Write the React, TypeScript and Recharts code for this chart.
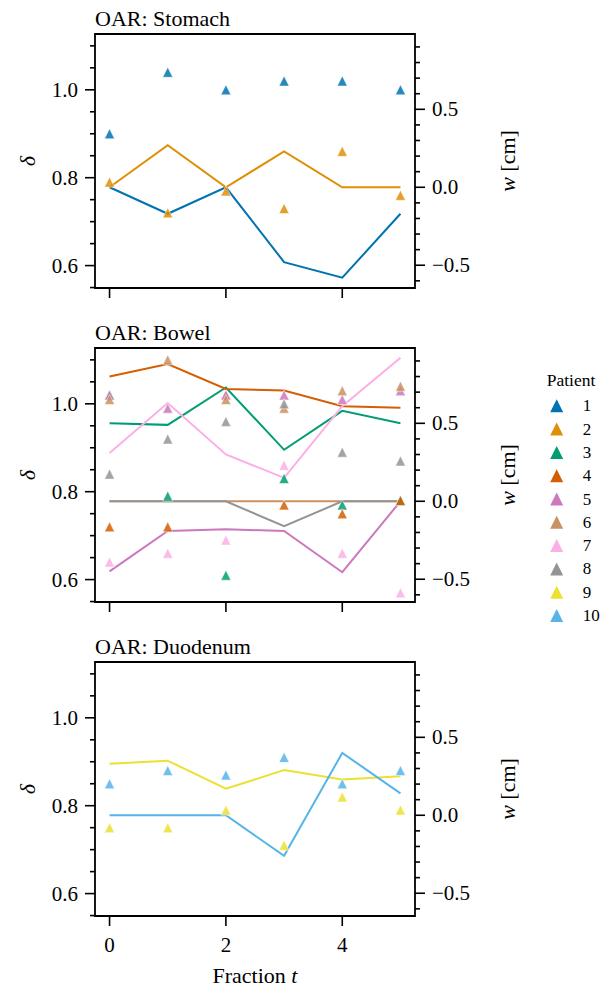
import React from 'react';
import { ComposedChart, Line, Scatter, XAxis, YAxis, ReferenceArea } from 'recharts';

// fractions on the x axis
const fractions = [0, 1, 2, 3, 4, 5];
const xTicks = [0, 2, 4];

// delta (left axis, triangles) and w (right axis, lines) per patient
const delta1 = [0.9, 1.04, 1.0, 1.02, 1.02, 1.0];
const shift1 = [0.0, -0.17, 0.0, -0.48, -0.58, -0.17];
const delta2 = [0.79, 0.72, 0.77, 0.73, 0.86, 0.76];
const shift2 = [0.0, 0.27, 0.0, 0.23, 0.0, 0.0];

const delta3 = [1.02, 0.79, 0.61, 0.83, 0.77, 0.78];
const shift3 = [0.5, 0.49, 0.73, 0.33, 0.58, 0.5];
const delta4 = [0.72, 0.72, 1.02, 0.77, 0.75, 0.78];
const shift4 = [0.8, 0.88, 0.72, 0.71, 0.61, 0.6];
const delta5 = [1.02, 0.99, 1.02, 1.02, 1.01, 1.03];
const shift5 = [-0.45, -0.19, -0.18, -0.19, -0.455, 0.0];
const delta6 = [1.01, 1.1, 1.01, 0.99, 1.03, 1.04];
const shift6 = [0.0, 0.0, 0.0, 0.0, 0.0, 0.0];
const delta7 = [0.64, 0.66, 0.69, 0.86, 0.66, 0.57];
const shift7 = [0.31, 0.63, 0.3, 0.15, 0.61, 0.92];
const delta8 = [0.84, 0.92, 0.96, 1.0, 0.89, 0.87];
const shift8 = [0.0, 0.0, 0.0, -0.16, 0.0, 0.0];

const delta9 = [0.75, 0.75, 0.79, 0.71, 0.82, 0.79];
const shift9 = [0.33, 0.35, 0.17, 0.29, 0.23, 0.25];
const delta10 = [0.85, 0.88, 0.87, 0.91, 0.85, 0.88];
const shift10 = [0.0, 0.0, 0.0, -0.26, 0.4, 0.14];

const patientDelta: Record<number, number[]> = {
    1: delta1, 2: delta2, 3: delta3, 4: delta4, 5: delta5,
    6: delta6, 7: delta7, 8: delta8, 9: delta9, 10: delta10,
};
const patientShift: Record<number, number[]> = {
    1: shift1, 2: shift2, 3: shift3, 4: shift4, 5: shift5,
    6: shift6, 7: shift7, 8: shift8, 9: shift9, 10: shift10,
};

const patients = [1, 2, 3, 4, 5, 6, 7, 8, 9, 10];
const colors = [
    '#0173b2', '#de8f05', '#029e73', '#d55e00', '#cc78bc',
    '#ca9161', '#fbafe4', '#949494', '#ece133', '#56b4e9',
];

const deltaTicks = [0.55, 0.6, 0.65, 0.7, 0.75, 0.8, 0.85, 0.9, 0.95, 1.0, 1.05, 1.1];
const deltaMajor = [0.6, 0.8, 1.0];
const shiftTicks = [-0.6, -0.5, -0.4, -0.3, -0.2, -0.1, 0, 0.1, 0.2, 0.3, 0.4, 0.5, 0.6, 0.7, 0.8, 0.9];
const shiftMajor = [-0.5, 0, 0.5];

const organs = [
    { title: 'OAR: Stomach', patients: [1, 2] },
    { title: 'OAR: Bowel', patients: [3, 4, 5, 6, 7, 8] },
    { title: 'OAR: Duodenum', patients: [9, 10] },
];

const X_DOMAIN: [number, number] = [-0.25, 5.25];
const DELTA_DOMAIN: [number, number] = [0.549, 1.127];
const SHIFT_DOMAIN: [number, number] = [-0.646, 0.983];

const W = 607;
const PLOT_L = 95;
const PLOT_R = 415;
const PLOT_TOP = 34;
const PLOT_BOTTOM = 288;
const FONT = '"Liberation Serif", "DejaVu Serif", serif';

const isMajor = (v: number, majors: number[]) => majors.some((m) => Math.abs(m - v) < 1e-6);
const fmt = (v: number) => (v < 0 ? '\u2212' + Math.abs(v).toFixed(1) : v.toFixed(1));

const Triangle = (props: any) => {
    const { cx, cy, fill } = props;
    if (cx == null || cy == null) return null;
    const s = 5;
    return (
        <path
            d={`M${cx},${cy - s}L${cx - s},${cy + s}L${cx + s},${cy + s}Z`}
            fill={fill}
            fillOpacity={0.85}
            stroke="#fff"
            strokeWidth={0.5}
        />
    );
};

function Panel({ title, ids, showX, height }: { title: string; ids: number[]; showX: boolean; height: number }) {
    const renderX = (props: any) => {
        const { x, payload } = props;
        return (
            <g>
                <line x1={x} x2={x} y1={PLOT_BOTTOM} y2={PLOT_BOTTOM + 10} stroke="#000" strokeWidth={1.6} />
                {showX && (
                    <text x={x} y={PLOT_BOTTOM + 36} textAnchor="middle" fontSize={21} fontFamily={FONT} fill="#000">
                        {payload.value}
                    </text>
                )}
            </g>
        );
    };
    const renderDelta = (props: any) => {
        const { y, payload } = props;
        const major = isMajor(payload.value, deltaMajor);
        return (
            <g>
                <line x1={PLOT_L} x2={PLOT_L - (major ? 10 : 5)} y1={y} y2={y} stroke="#000" strokeWidth={1.6} />
                {major && (
                    <text x={PLOT_L - 17} y={y} textAnchor="end" dominantBaseline="central" fontSize={21} fontFamily={FONT} fill="#000">
                        {payload.value.toFixed(1)}
                    </text>
                )}
            </g>
        );
    };
    const renderShift = (props: any) => {
        const { y, payload } = props;
        const major = isMajor(payload.value, shiftMajor);
        return (
            <g>
                <line x1={PLOT_R} x2={PLOT_R + (major ? 10 : 5)} y1={y} y2={y} stroke="#000" strokeWidth={1.6} />
                {major && (
                    <text x={PLOT_R + 17} y={y} textAnchor="start" dominantBaseline="central" fontSize={21} fontFamily={FONT} fill="#000">
                        {fmt(payload.value)}
                    </text>
                )}
            </g>
        );
    };
    const midY = (PLOT_TOP + PLOT_BOTTOM) / 2;

    return (
        <ComposedChart width={W} height={height} margin={{ top: PLOT_TOP, right: 0, bottom: 0, left: 0 }}>
            <XAxis
                type="number"
                dataKey="t"
                domain={X_DOMAIN}
                ticks={xTicks}
                interval={0}
                allowDataOverflow
                axisLine={false}
                tickLine={false}
                height={height - PLOT_BOTTOM}
                tick={renderX}
                label={
                    showX
                        ? {
                              content: () => (
                                  <text x={(PLOT_L + PLOT_R) / 2} y={355} textAnchor="middle" fontSize={22} fontFamily={FONT} fill="#000">
                                      Fraction <tspan fontStyle="italic">t</tspan>
                                  </text>
                              ),
                          }
                        : undefined
                }
            />
            <YAxis
                yAxisId="delta"
                orientation="left"
                type="number"
                width={PLOT_L}
                domain={DELTA_DOMAIN}
                ticks={deltaTicks}
                interval={0}
                allowDataOverflow
                axisLine={false}
                tickLine={false}
                tick={renderDelta}
                label={{
                    content: () => (
                        <text
                            x={27}
                            y={midY}
                            transform={`rotate(-90, 27, ${midY})`}
                            textAnchor="middle"
                            dominantBaseline="central"
                            fontSize={22}
                            fontFamily={FONT}
                            fontStyle="italic"
                            fill="#000"
                        >
                            δ
                        </text>
                    ),
                }}
            />
            <YAxis
                yAxisId="shift"
                orientation="right"
                type="number"
                width={W - PLOT_R}
                domain={SHIFT_DOMAIN}
                ticks={shiftTicks}
                interval={0}
                allowDataOverflow
                axisLine={false}
                tickLine={false}
                tick={renderShift}
                label={{
                    content: () => (
                        <text
                            x={507}
                            y={midY}
                            transform={`rotate(-90, 507, ${midY})`}
                            textAnchor="middle"
                            dominantBaseline="central"
                            fontSize={22}
                            fontFamily={FONT}
                            fill="#000"
                        >
                            <tspan fontStyle="italic">w</tspan> [cm]
                        </text>
                    ),
                }}
            />
            {ids.map((p) => (
                <Scatter
                    key={'d' + p}
                    yAxisId="delta"
                    data={fractions.map((t, i) => ({ t, v: patientDelta[p][i] }))}
                    dataKey="v"
                    fill={colors[p - 1]}
                    shape={<Triangle />}
                    isAnimationActive={false}
                />
            ))}
            {ids.map((p) => (
                <Line
                    key={'w' + p}
                    yAxisId="shift"
                    data={fractions.map((t, i) => ({ t, v: patientShift[p][i] }))}
                    dataKey="v"
                    type="linear"
                    stroke={colors[p - 1]}
                    strokeWidth={2}
                    dot={false}
                    activeDot={false}
                    isAnimationActive={false}
                />
            ))}
            <ReferenceArea
                yAxisId="delta"
                x1={X_DOMAIN[0]}
                x2={X_DOMAIN[1]}
                y1={DELTA_DOMAIN[0]}
                y2={DELTA_DOMAIN[1]}
                fill="none"
                stroke="#000"
                strokeWidth={1.8}
                ifOverflow="visible"
                label={{
                    content: () => (
                        <text x={PLOT_L} y={PLOT_TOP - 8} fontSize={22} fontFamily={FONT} fill="#000">
                            {title}
                        </text>
                    ),
                }}
            />
        </ComposedChart>
    );
}

function PatientLegend() {
    return (
        <svg width={87} height={270} style={{ position: 'absolute', left: 520, top: 360 }}>
            <text x={51} y={26} textAnchor="middle" fontSize={17.5} fontFamily={FONT} fill="#000">
                Patient
            </text>
            {patients.map((p, i) => {
                const cy = 45.8 + i * 23.3;
                const cx = 36.7;
                const s = 6.5;
                return (
                    <g key={p}>
                        <path d={`M${cx},${cy - s}L${cx - s},${cy + s}L${cx + s},${cy + s}Z`} fill={colors[p - 1]} />
                        <text x={62.7} y={cy + 5.5} fontSize={17} fontFamily={FONT} fill="#000">
                            {p}
                        </text>
                    </g>
                );
            })}
        </svg>
    );
}

export default function App() {
    return (
        <div style={{ position: 'absolute', left: 0, top: 0, width: W, height: 992, background: '#fff', fontFamily: FONT }}>
            {organs.map((o, i) => (
                <div key={o.title} style={{ position: 'absolute', left: 0, top: i * 314 }}>
                    <Panel title={o.title} ids={o.patients} showX={i === organs.length - 1} height={i === organs.length - 1 ? 364 : 314} />
                </div>
            ))}
            <PatientLegend />
        </div>
    );
}
